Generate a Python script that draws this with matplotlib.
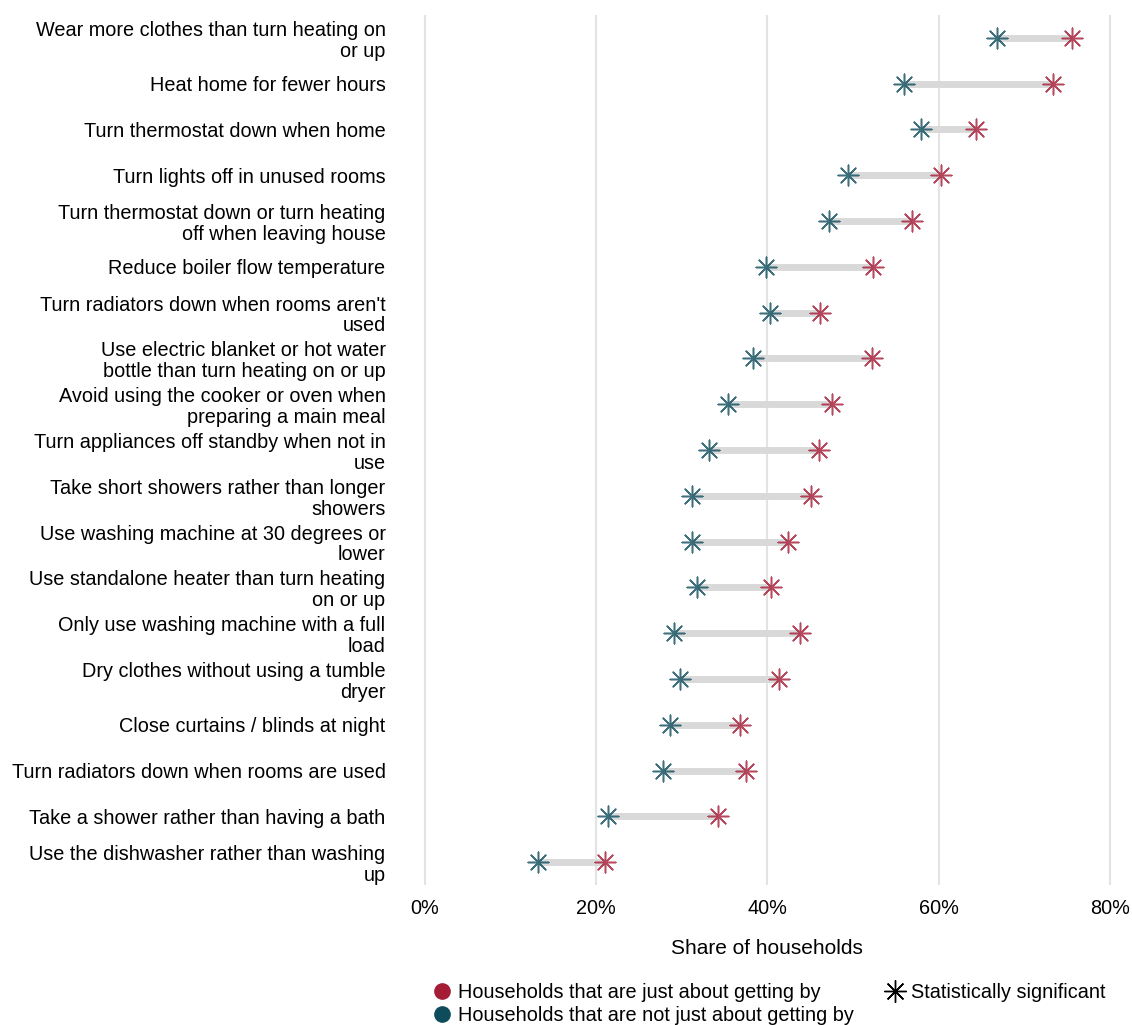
import matplotlib.pyplot as plt
from matplotlib.lines import Line2D

plt.rcParams["font.family"] = ["Liberation Sans", "DejaVu Sans"]

labels = [
    "Wear more clothes than turn heating on\nor up",
    "Heat home for fewer hours",
    "Turn thermostat down when home",
    "Turn lights off in unused rooms",
    "Turn thermostat down or turn heating\noff when leaving house",
    "Reduce boiler flow temperature",
    "Turn radiators down when rooms aren't\nused",
    "Use electric blanket or hot water\nbottle than turn heating on or up",
    "Avoid using the cooker or oven when\npreparing a main meal",
    "Turn appliances off standby when not in\nuse",
    "Take short showers rather than longer\nshowers",
    "Use washing machine at 30 degrees or\nlower",
    "Use standalone heater than turn heating\non or up",
    "Only use washing machine with a full\nload",
    "Dry clothes without using a tumble\ndryer",
    "Close curtains / blinds at night",
    "Turn radiators down when rooms are used",
    "Take a shower rather than having a bath",
    "Use the dishwasher rather than washing\nup",
]
# share of households (%)
not_jagb = [66.8, 56.0, 57.9, 49.4, 47.2, 39.8, 40.3, 38.3, 35.4, 33.2,
            31.2, 31.2, 31.8, 29.1, 29.8, 28.6, 27.8, 21.4, 13.2]
jagb = [75.6, 73.4, 64.3, 60.3, 56.9, 52.3, 46.1, 52.2, 47.5, 46.0,
        45.1, 42.4, 40.4, 43.8, 41.4, 36.8, 37.5, 34.2, 21.0]

red = "#a51c36"
blue = "#0e4c5c"
star = (8, 2, 0)
fs = 14.3

fig = plt.figure(figsize=(11.32, 10.25), dpi=100)
ax = fig.add_axes([405 / 1132, 1 - 885 / 1025, 723 / 1132, 870 / 1025])

y = list(range(len(labels)))
for i in y:
    ax.plot([not_jagb[i], jagb[i]], [i, i], color="#d9d9d9", lw=5,
            solid_capstyle="butt", zorder=2)
ax.scatter(not_jagb, y, marker=star, s=220, color=blue, lw=1.1,
           alpha=0.8, zorder=3)
ax.scatter(jagb, y, marker=star, s=220, color=red, lw=1.1,
           alpha=0.8, zorder=3)

ax.set_xlim(-2.33, 82.1)
ax.set_ylim(len(labels) - 0.5, -0.5)
ax.set_xticks([0, 20, 40, 60, 80])
ax.set_xticklabels(["0%", "20%", "40%", "60%", "80%"], fontsize=fs)
ax.set_yticks(y)
ax.set_yticklabels(labels, fontsize=fs, linespacing=1.12)
ax.tick_params(axis="y", length=0, pad=14)
ax.tick_params(axis="x", length=0, pad=10)
ax.grid(axis="x", color="#e3e3e3", lw=1.5, zorder=0)
ax.set_axisbelow(True)
for s in ax.spines.values():
    s.set_visible(False)
ax.set_xlabel("Share of households", fontsize=15, labelpad=15)

handles = [
    Line2D([], [], marker="o", ls="", color=red, markersize=11,
           label="Households that are just about getting by"),
    Line2D([], [], marker="o", ls="", color=blue, markersize=11,
           label="Households that are not just about getting by"),
    Line2D([], [], marker=star, ls="", color="black", markersize=16,
           markeredgewidth=1.0, label="Statistically significant"),
]
fig.legend(handles=handles, loc="upper left", bbox_to_anchor=(430 / 1132, 1 - 979 / 1025),
           ncol=2, frameon=False, fontsize=fs, handlelength=0.8,
           handletextpad=0.4, columnspacing=1.7, labelspacing=0.2,
           borderaxespad=0, borderpad=0.2)
fig.savefig("out.png", dpi=100)
